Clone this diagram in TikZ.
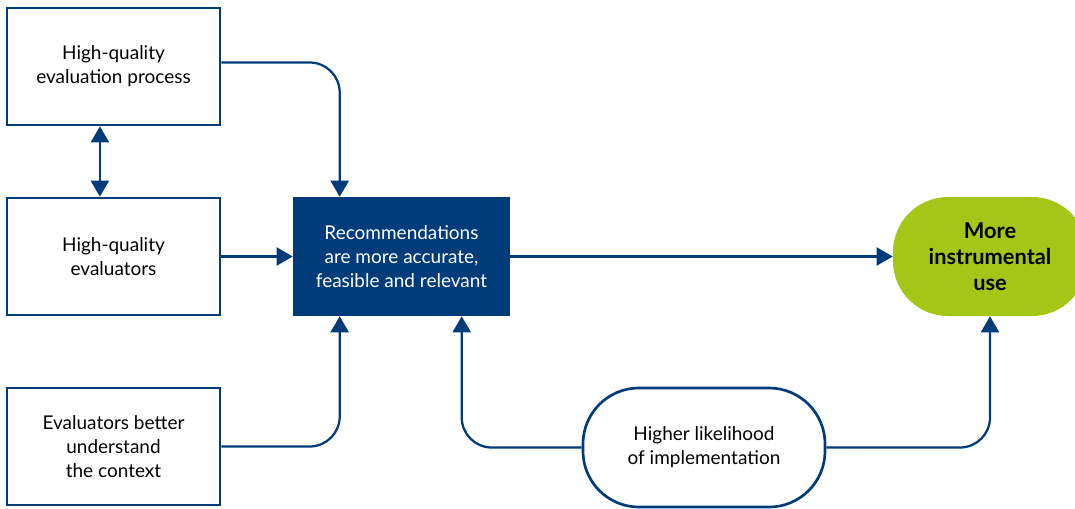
\documentclass[tikz,border=0pt]{standalone}
\usepackage{fontspec}
\setmainfont{Lato}
\usetikzlibrary{arrows.meta}
\definecolor{navy}{HTML}{003B7A}
\definecolor{lime}{HTML}{A5C617}
\begin{document}
\begin{tikzpicture}[x=0.025cm,y=-0.025cm,
    font=\fontsize{13.5pt}{17pt}\selectfont,
    whitebox/.style={shape=rectangle,draw=navy,line width=1.9pt,fill=white,align=center,minimum width=5.325cm,minimum height=2.925cm},
    darkbox/.style={shape=rectangle,fill=navy,text=white,align=center,minimum width=5.425cm,minimum height=2.975cm},
    goalnode/.style={shape=rectangle,rounded corners=1.375cm,fill=lime,align=center,font=\fontsize{15.5pt}{18.5pt}\selectfont\bfseries,minimum width=4.85cm,minimum height=2.975cm},
    pill/.style={shape=rectangle,rounded corners=1.4cm,draw=navy,line width=1.9pt,fill=white,align=center,minimum width=6.05cm,minimum height=2.975cm},
    flow/.style={draw=navy,line width=1.6pt,rounded corners=0.75cm,-{Triangle[width=0.45cm,length=0.4cm]}}]
    \useasboundingbox (0,0) rectangle (1075,508);

        \node[whitebox] (proc) at (113.5, 66.5)  {High-quality\\evaluation process};
        \node[whitebox] (evals) at (113.5, 256.5) {High-quality\\evaluators};
        \node[whitebox] (ctx) at (113.5, 446.5)  {Evaluators better\\understand\\the context};
        \node[darkbox] (rec) at (401.5, 256.5)   {Recommendations\\are more accurate,\\feasible and relevant};
        \node[goalnode] (use) at (990, 256.5)    {More\\instrumental\\use};
        \node[pill] (impl) at (704, 447.5)       {Higher likelihood\\of implementation};

	\draw[flow,{Triangle[width=0.45cm,length=0.4cm]}-{Triangle[width=0.45cm,length=0.4cm]}] ([xshift=-0.34cm]proc.south) -- ([xshift=-0.34cm]evals.north);
	\draw[flow] ([yshift=0.1cm]proc.east) -| ([xshift=1.175cm]rec.north west);
	\draw[flow] (evals.east) -- (rec.west);
	\draw[flow] (ctx.east) -| ([xshift=1.175cm]rec.south west);
	\draw[flow] (rec.east) -- (use.west);
	\draw[flow] (impl.west) -| ([xshift=4.225cm]rec.south west);
	\draw[flow] (impl.east) -| (use.south);
	\end{tikzpicture}
\end{document}
